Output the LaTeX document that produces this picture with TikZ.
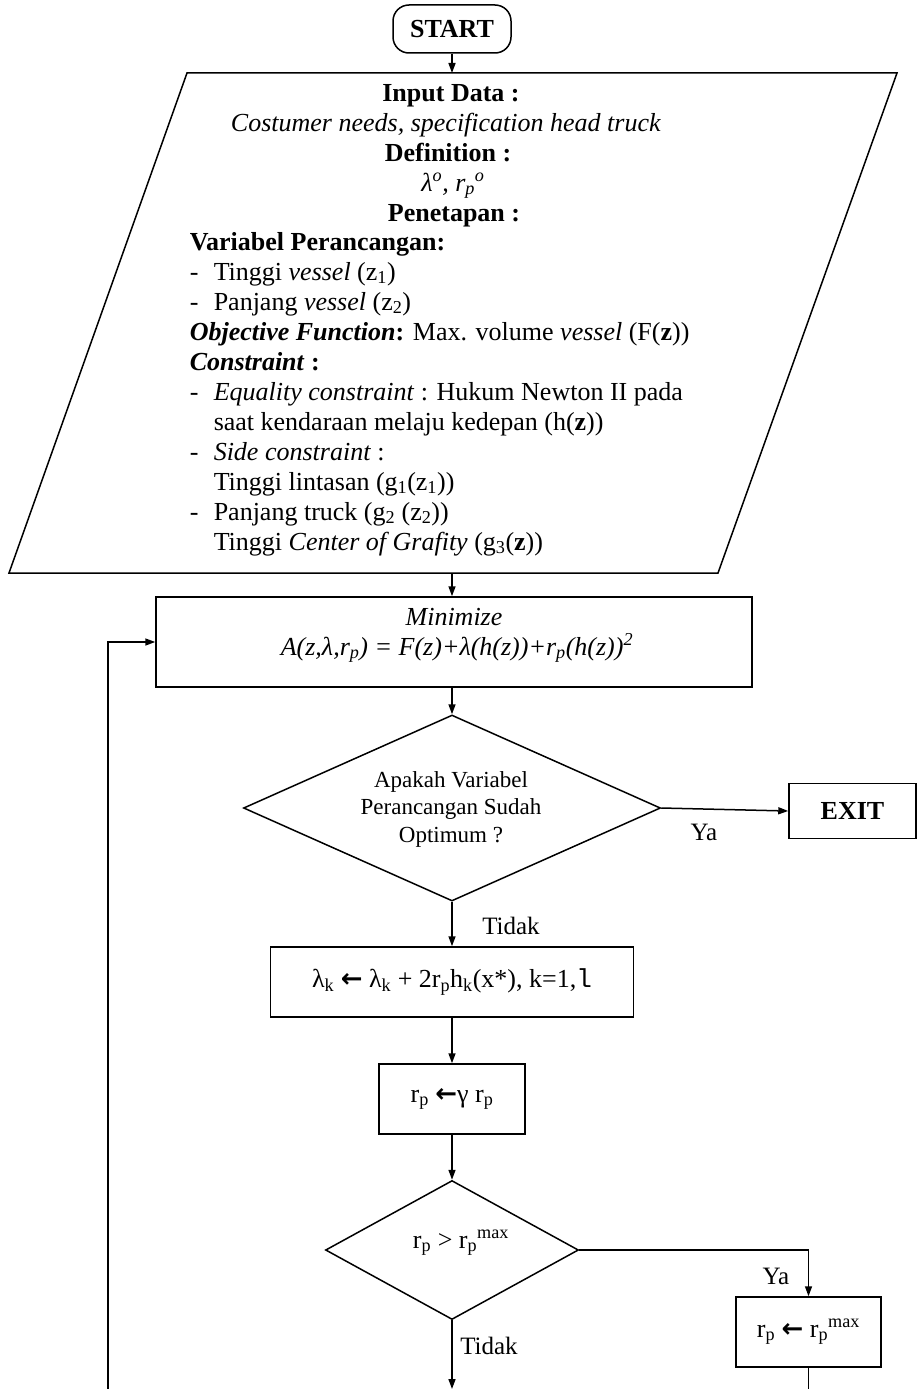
\documentclass[tikz,border=0pt]{standalone}
\usepackage{fontspec}
\setmainfont{Liberation Serif}
\newfontfamily\symfont{DejaVu Sans}
\newfontfamily\monofont{Liberation Mono}
\usetikzlibrary{shapes.geometric,arrows.meta}
\newcommand{\larr}{{\symfont\bfseries ←}}
\begin{document}
\begin{tikzpicture}[x=1pt,y=-1pt,
  font=\fontsize{26}{30}\selectfont,
  line width=1.5pt,
  arr/.style={-{Triangle[length=10pt,width=7pt]}},
  box/.style={draw,rectangle,inner sep=0pt},
  txt/.style={inner sep=0pt},
  lbl/.style={inner sep=0pt,font=\fontsize{25}{28}\selectfont},
  dec/.style={draw,diamond,inner sep=0pt}]
\useasboundingbox (0,0) rectangle (918,1389);

% START
\node[box,rounded corners=16pt,minimum width=118pt,minimum height=48pt,font=\fontsize{26}{30}\selectfont\bfseries] (start) at (452,29) {START};

% Input parallelogram
\coordinate (pTL) at (187,73);
\coordinate (pTR) at (897,73);
\coordinate (pBR) at (718,573);
\coordinate (pBL) at (9,573);
\draw (pTL) -- (pTR) -- (pBR) -- (pBL) -- cycle;
\coordinate (inTop) at (452,73);
\coordinate (inBot) at (452,573);

\node[txt,anchor=base] (l0) at (451,101) {\textbf{Input Data :}};
\node[txt,anchor=base] (l1) at (446,131) {\textit{Costumer needs, specification head truck}};
\node[txt,anchor=base] (l2) at (448,161) {\textbf{Definition :}};
\node[txt,anchor=base] (l3) at (453,191) {\textit{λ\textsuperscript{o}, r\textsubscript{p}\textsuperscript{o}}};
\node[txt,anchor=base] (l4) at (454,221) {\textbf{Penetapan :}};
\node[txt,anchor=base west] (l5) at (189,250) {\textbf{Variabel Perancangan:}};
\node[txt,anchor=base west] (l6) at (189,280) {\makebox[24pt][l]{-}Tinggi \textit{vessel} (z\textsubscript{1})};
\node[txt,anchor=base west] (l7) at (189,310) {\makebox[24pt][l]{-}Panjang \textit{vessel} (z\textsubscript{2})};
\node[txt,anchor=base west] (l8) at (189,340) {\textbf{\textit{Objective Function}:} Max. volume \textit{vessel} (F(\textbf{z}))};
\node[txt,anchor=base west] (l9) at (189,370) {\textbf{\textit{Constraint} :}};
\node[txt,anchor=base west] (l10) at (189,400) {\makebox[24pt][l]{-}\textit{Equality constraint} : Hukum Newton II pada};
\node[txt,anchor=base west] (l11) at (213,430) {saat kendaraan melaju kedepan (h(\textbf{z}))};
\node[txt,anchor=base west] (l12) at (189,460) {\makebox[24pt][l]{-}\textit{Side constraint} :};
\node[txt,anchor=base west] (l13) at (213,490) {Tinggi lintasan (g\textsubscript{1}(z\textsubscript{1}))};
\node[txt,anchor=base west] (l14) at (189,520) {\makebox[24pt][l]{-}Panjang truck (g\textsubscript{2} (z\textsubscript{2}))};
\node[txt,anchor=base west] (l15) at (213,550) {Tinggi \textit{Center of Grafity} (g\textsubscript{3}(\textbf{z}))};

% Minimize box
\node[box,minimum width=596pt,minimum height=90pt] (minbox) at (454,642) {};
\node[txt,anchor=base] (minT) at (454,625) {\textit{Minimize}};
\node[txt,anchor=base] (minF) at (457,655) {\textit{A(z,λ,r\textsubscript{p}) = F(z)+λ(h(z))+r\textsubscript{p}(h(z))\textsuperscript{2}}};

% Decision 1
\node[dec,minimum width=417pt,minimum height=186pt] (d1) at (452,808) {};
\node[txt,align=center,font=\fontsize{23}{27.5}\selectfont] (d1t) at (451,809) {Apakah Variabel\\Perancangan Sudah\\Optimum ?};

% EXIT
\node[box,minimum width=127pt,minimum height=55pt,font=\fontsize{26}{30}\selectfont\bfseries] (exit) at (852.5,811) {EXIT};
\node[lbl] (ya1) at (704,832) {Ya};

% Update lambda
\node[box,minimum width=363pt,minimum height=70pt] (b2) at (452,982) {λ\textsubscript{k} \larr{} λ\textsubscript{k} + 2r\textsubscript{p}h\textsubscript{k}(x*), k=1,{\monofont l}};
\node[lbl] (tidak1) at (511,926) {Tidak};

% Update rp
\node[box,minimum width=146pt,minimum height=70pt] (b3) at (452,1099) {r\textsubscript{p} \larr{}γ r\textsubscript{p}};

% Decision 2
\node[dec,minimum width=253pt,minimum height=139pt] (d2) at (452,1250) {};
\node[txt] (d2t) at (461,1243) {r\textsubscript{p} > r\textsubscript{p}\textsuperscript{max}};

% rp <- rpmax
\node[box,minimum width=145pt,minimum height=70pt] (b4) at (808.5,1332) {r\textsubscript{p} \larr{} r\textsubscript{p}\textsuperscript{max}};
\node[lbl] (ya2) at (776,1276) {Ya};
\node[lbl] (tidak2) at (489,1346) {Tidak};

% connectors
\coordinate (endA) at (452,1389);
\coordinate (endB) at (808.5,1389);
\coordinate (loopB) at (108,1389);
\draw[arr] (start.south) -- (inTop);
\draw[arr] (inBot) -- (inBot |- minbox.north);
\draw[arr] (d1.north |- minbox.south) -- (d1.north);
\draw[arr] (d1.east) -- (exit.west);
\draw[arr] (d1.south) -- (b2.north);
\draw[arr] (b2.south) -- (b3.north);
\draw[arr] (b3.south) -- (d2.north);
\draw[arr] (d2.east) -| (b4.north);
\draw[arr] (d2.south) -- (endA);
\draw (b4.south) -- (endB);
\draw[arr] (loopB) |- (minbox.west);
\end{tikzpicture}
\end{document}
